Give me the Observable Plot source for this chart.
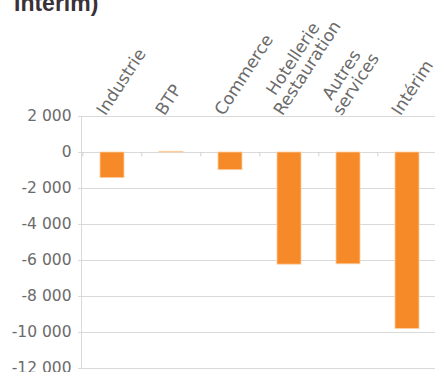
<!DOCTYPE html>
<html><head><meta charset="utf-8">
<script src="https://cdn.jsdelivr.net/npm/d3@7"></script>
<script src="https://cdn.jsdelivr.net/npm/@observablehq/plot@0.6"></script>
<style>
html,body{margin:0;padding:0;background:#fff;overflow:hidden;width:435px;height:372px}
#wrap{position:relative;width:435px;height:372px;overflow:hidden;background:#fff}
#title{position:absolute;left:14px;top:-10px;z-index:2;font:bold 23px "Liberation Sans",Arial,sans-serif;color:#3a3238;white-space:nowrap;line-height:normal}
#chart{position:absolute;left:0;top:0;z-index:1}
</style></head><body>
<div id="wrap"><div id="title">Intérim)</div><div id="chart"></div></div>
<script>
const categories = ["Industrie", "BTP", "Commerce", "Hotellerie\nRestauration", "Autres\nservices", "Intérim"];
const values = [-1420, 40, -980, -6230, -6210, -9800];
const yTicks = [2000, 0, -2000, -4000, -6000, -8000, -10000, -12000];

const data = categories.map((c, i) => ({cat: c, value: values[i]}));
const fmt = d3.formatLocale({decimal: ",", thousands: " ", grouping: [3], minus: "-"}).format(",d");

const W = 435, H = 372;
const x0 = 81, x1 = 437;
const step = (x1 - x0) / categories.length;
const FONT = "DejaVu Sans";
const FS = 17;
const ANG = 57;
const rad = ANG * Math.PI / 180;
const ux = Math.cos(rad), uy = -Math.sin(rad);

const ctx = document.createElement("canvas").getContext("2d");
ctx.font = `${FS}px "${FONT}"`;

const labelMarks = data.map(d => {
  const wmax = Math.max(...d.cat.split("\n").map(s => ctx.measureText(s).width));
  return Plot.text([d], {
    x: "cat", frameAnchor: "top", text: "cat",
    rotate: -ANG, textAnchor: "middle", lineAnchor: "bottom", lineHeight: 1.0,
    fontSize: FS, fontFamily: FONT, fill: "#6b6b6b",
    dx: -7 + ux * wmax / 2, dy: 0 + uy * wmax / 2
  });
});

const chart = Plot.plot({
  width: W, height: H,
  marginTop: 116, marginBottom: 4, marginLeft: x0, marginRight: 0,
  style: {fontFamily: FONT, fontSize: "15.5px", color: "#6b6b6b", background: "transparent"},
  x: {type: "band", domain: categories, range: [x0, x1], paddingInner: 0.6, paddingOuter: 0.3, axis: null},
  y: {domain: [-12000, 2000], axis: null},
  marks: [
    Plot.ruleY(yTicks, {stroke: "#d9d9d9", strokeWidth: 1, insetLeft: -3}),
    Plot.frame({anchor: "left", stroke: "#d9d9d9"}),
    Plot.ruleX(categories, {x: d => d, y1: 0, y2: -240, dx: -step / 2, stroke: "#d0d0d0"}),
    Plot.barY(data, {x: "cat", y: "value", fill: "#f68a28", stroke: "#fbcd9f", strokeWidth: 0.8}),
    Plot.axisY(yTicks, {tickSize: 0, tickPadding: 10, tickFormat: fmt, fontSize: 15.5, fill: "#6b6b6b", label: null}),
    ...labelMarks
  ]
});
document.getElementById("chart").appendChild(chart);
</script>
</body></html>
